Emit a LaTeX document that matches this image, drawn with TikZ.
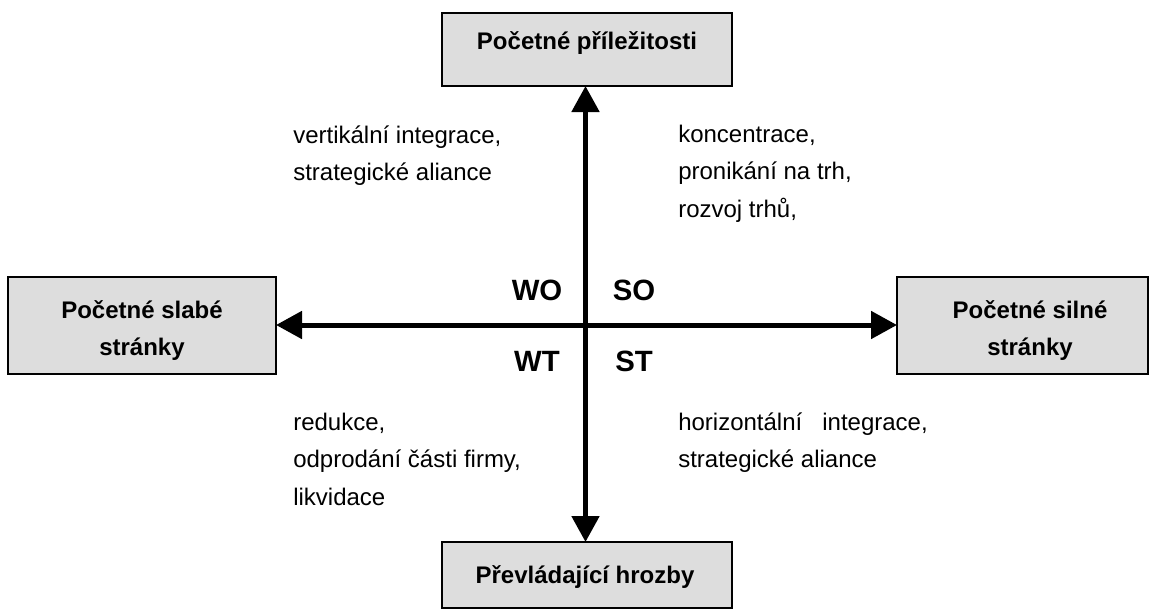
\documentclass[tikz,border=0pt]{standalone}
\usepackage{fontspec}
\setmainfont{Liberation Sans}
\usetikzlibrary{arrows.meta}

\tikzset{
  box/.style={draw=black, line width=1.5pt, fill=boxgray, inner sep=0pt, outer sep=0pt},
  boxtext/.style={font=\fontsize{18}{22}\selectfont\bfseries, anchor=base, inner sep=0pt},
  quad/.style={font=\fontsize{22}{26}\selectfont\bfseries, anchor=base, inner sep=0pt},
  note/.style={font=\fontsize{18}{22}\selectfont, anchor=base west, inner sep=0pt},
  axis/.style={line width=3.75pt, {Triangle[length=19.5pt,width=20.25pt]}-{Triangle[length=19.5pt,width=20.25pt]}}
}
\definecolor{boxgray}{HTML}{DDDDDD}

\begin{document}
\begin{tikzpicture}[x=0.75pt, y=-0.75pt]
  \useasboundingbox (0,0) rectangle (1151,610);

  % the four boxes
  \node[box, minimum width=217.5pt, minimum height=54.75pt] (T) at (587,49.5) {};
  \node[box, minimum width=201pt,   minimum height=72.75pt] (L) at (142,325.5) {};
  \node[box, minimum width=188.25pt, minimum height=72.75pt] (R) at (1022.5,325.5) {};
  \node[box, minimum width=217.5pt, minimum height=49.5pt] (B) at (587,575) {};

  \node[boxtext] (Tt) at (587,50) {Početné příležitosti};
  \node[boxtext] (Lt1) at (142,318) {Početné slabé};
  \node[boxtext] (Lt2) at (142,355.5) {stránky};
  \node[boxtext] (Rt1) at (1030,318) {Početné silné};
  \node[boxtext] (Rt2) at (1030,355.5) {stránky};
  \node[boxtext] (Bt) at (585,583) {Převládající hrozby};

  % crossing axes
  \coordinate (c) at (585.5,325);
  \draw[axis] (T.south -| c) -- (B.north -| c);
  \draw[axis] (L.east |- c) -- (R.west |- c);

  % quadrant labels
  \node[quad] (WO) at (537,300) {WO};
  \node[quad] (SO) at (634,300) {SO};
  \node[quad] (WT) at (537,371) {WT};
  \node[quad] (ST) at (634,371) {ST};

  % strategies in each quadrant
  \node[note] (wo1) at (293,143) {vertikální integrace,};
  \node[note] (wo2) at (293,180.5) {strategické aliance};

  \node[note] (so1) at (678,142) {koncentrace,};
  \node[note] (so2) at (678,179.5) {pronikání na trh,};
  \node[note] (so3) at (678,217) {rozvoj trhů,};

  \node[note] (wt1) at (293,430) {redukce,};
  \node[note] (wt2) at (293,467.5) {odprodání části firmy,};
  \node[note] (wt3) at (293,505) {likvidace};

  \node[note] (st1) at (678,430) {horizontální\hspace{15pt}integrace,};
  \node[note] (st2) at (678,467.5) {strategické aliance};
\end{tikzpicture}
\end{document}
